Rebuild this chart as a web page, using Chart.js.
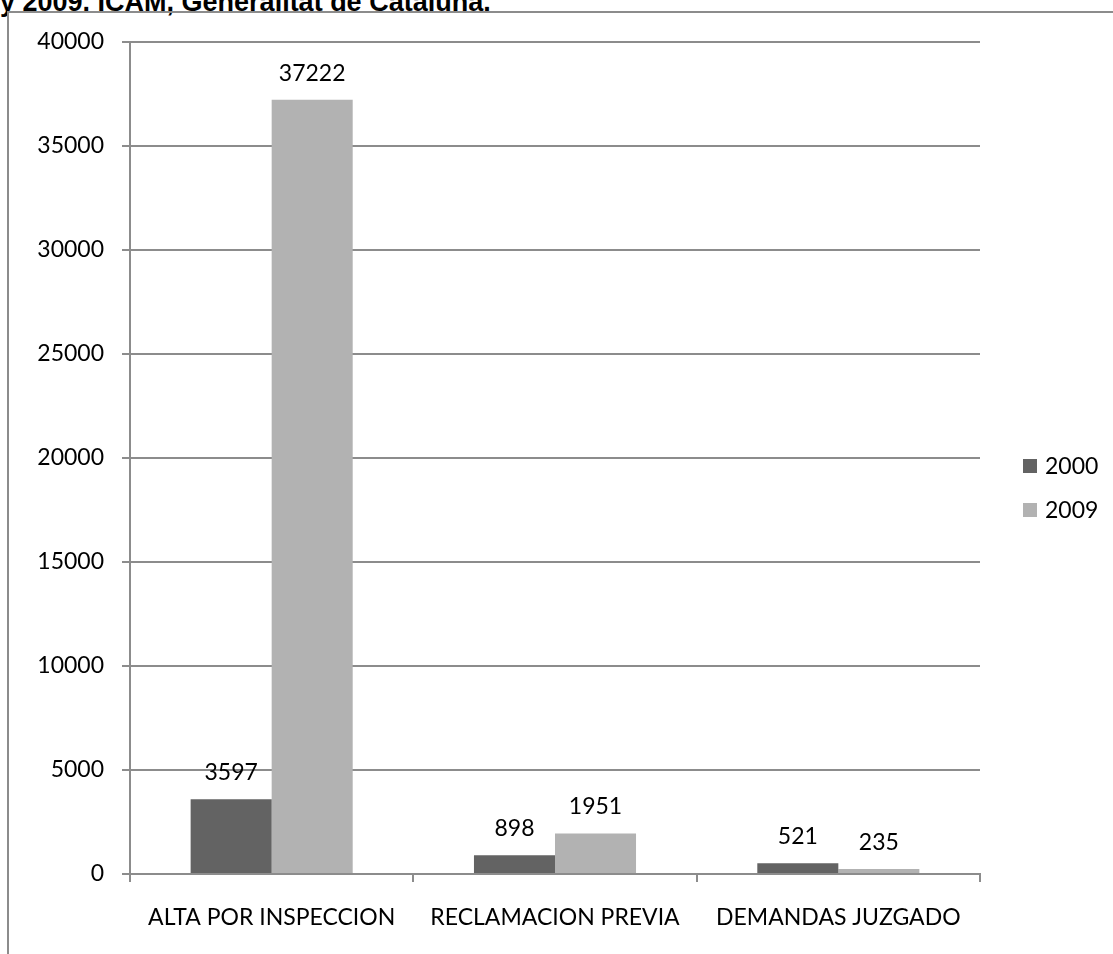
<!DOCTYPE html>
<html>
<head>
<meta charset="utf-8">
<script src="https://cdn.jsdelivr.net/npm/chart.js@4/dist/chart.umd.min.js"></script>
<style>
  html, body { margin: 0; padding: 0; background: #fff; overflow: hidden; }
  #wrap { position: relative; width: 1113px; height: 954px; }
  #caption {
    position: absolute; left: 0; top: -13px; line-height: 27px;
    font: bold 27px "Liberation Sans", Arial, sans-serif; color: #000; white-space: nowrap;
  }
  #frame {
    position: absolute; left: 7px; top: 11px; width: 1110px; height: 960px;
    border-left: 2px solid #8c8c8c; border-top: 2px solid #8c8c8c;
  }
  canvas { position: absolute; left: 0; top: 0; }
</style>
</head>
<body>
<div id="wrap">
  <div id="caption">y 2009. ICAM, Generalitat de Cataluña.</div>
  <div id="frame"></div>
  <canvas id="chart" width="1113" height="954"></canvas>
</div>
<script>
const categories = ['ALTA POR INSPECCION', 'RECLAMACION PREVIA', 'DEMANDAS JUZGADO'];
const values2000 = [3597, 898, 521];
const values2009 = [37222, 1951, 235];
const seriesNames = ['2000', '2009'];
const colors = ['#636363', '#b2b2b2'];

const FONT = 'Lato, "Open Sans", sans-serif';
const FSIZE = 23;

// value labels above each bar
const barLabels = {
  id: 'barLabels',
  afterDatasetsDraw(chart) {
    const ctx = chart.ctx;
    ctx.save();
    ctx.font = FSIZE + 'px ' + FONT;
    ctx.fillStyle = '#000';
    ctx.textAlign = 'center';
    ctx.textBaseline = 'bottom';
    chart.data.datasets.forEach((ds, i) => {
      chart.getDatasetMeta(i).data.forEach((bar, j) => {
        ctx.fillText(String(ds.data[j]), bar.x, bar.y - 15);
      });
    });
    ctx.restore();
  }
};

// legend on the right, like the original
const sideLegend = {
  id: 'sideLegend',
  afterDraw(chart) {
    const ctx = chart.ctx;
    ctx.save();
    ctx.font = FSIZE + 'px ' + FONT;
    ctx.textBaseline = 'middle';
    chart.data.datasets.forEach((ds, i) => {
      const y = 466 + i * 44;
      ctx.fillStyle = ds.backgroundColor;
      ctx.fillRect(1023, y - 7, 14, 14);
      ctx.fillStyle = '#000';
      ctx.fillText(ds.label, 1045, y + 1);
    });
    ctx.restore();
  }
};

new Chart(document.getElementById('chart').getContext('2d'), {
  type: 'bar',
  data: {
    labels: categories,
    datasets: [
      { label: seriesNames[0], data: values2000, backgroundColor: colors[0] },
      { label: seriesNames[1], data: values2009, backgroundColor: colors[1] }
    ]
  },
  options: {
    responsive: false,
    animation: false,
    layout: { padding: { left: 8, right: 133, top: 42, bottom: 0 } },
    datasets: { bar: { categoryPercentage: 0.572, barPercentage: 1.0 } },
    plugins: { legend: { display: false }, tooltip: { enabled: false } },
    scales: {
      x: {
        grid: { offset: true, drawOnChartArea: false, color: '#8c8c8c', lineWidth: 2, tickLength: 8 },
        border: { color: '#8c8c8c', width: 2 },
        ticks: { color: '#000', font: { family: FONT, size: FSIZE }, padding: 22, maxRotation: 0 },
        afterFit(scale) { scale.height = 80; }
      },
      y: {
        min: 0,
        max: 40000,
        ticks: {
          stepSize: 5000, color: '#000', font: { family: FONT, size: FSIZE }, padding: 18,
          callback: (v) => String(v)
        },
        grid: { color: '#8c8c8c', lineWidth: 2, tickLength: 8 },
        border: { color: '#8c8c8c', width: 2 },
        afterFit(scale) { scale.width = 122; }
      }
    }
  },
  plugins: [barLabels, sideLegend]
});
</script>
</body>
</html>
